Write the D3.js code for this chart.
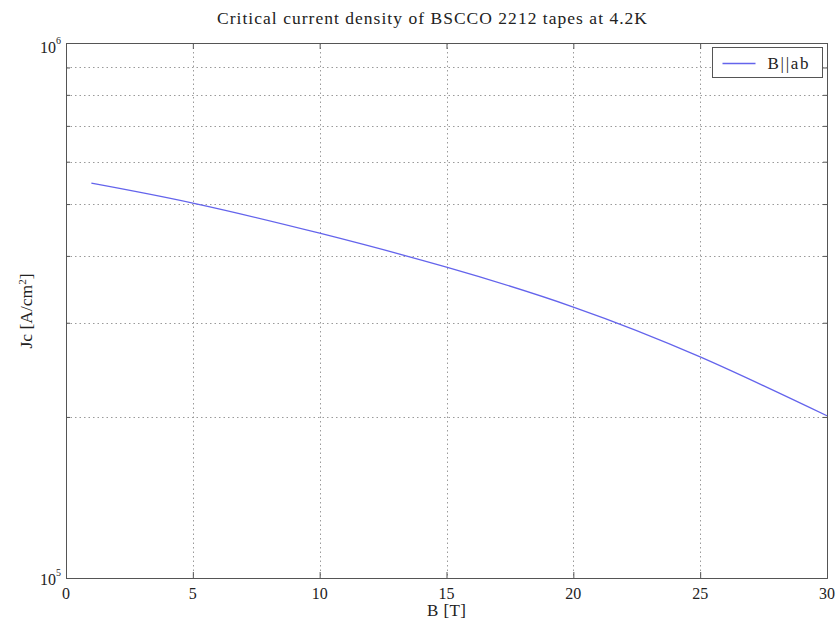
<!DOCTYPE html>
<html>
<head>
<meta charset="utf-8">
<script src="https://cdn.jsdelivr.net/npm/d3@7"></script>
<style>
  html, body { margin: 0; padding: 0; background: #fff; }
  svg { display: block; font-family: "Liberation Serif", "DejaVu Serif", serif; }
</style>
</head>
<body>
<svg id="chart" width="837" height="628"></svg>
<script>
// Field B (tesla) and critical current density Jc (A/cm^2), B parallel to ab-plane
const fieldB = [1, 5, 10, 15, 20, 25, 30];
const jcAB   = [547000, 502000, 441000, 381000, 321000, 259000, 201000];
const xTicks = [0, 5, 10, 15, 20, 25, 30];
const yDecades = [1e5, 1e6];
const yMinor = [2e5, 3e5, 4e5, 5e5, 6e5, 7e5, 8e5, 9e5];
const seriesName = "B||ab";

const svg = d3.select("#chart");
const m = { left: 66, right: 827, top: 43, bottom: 578 };

const x = d3.scaleLinear().domain([0, 30]).range([m.left, m.right]);
const y = d3.scaleLog().domain([1e5, 1e6]).range([m.bottom, m.top]);

// Grid: vertical at x ticks, horizontal at log minor values
const grid = svg.append("g").attr("stroke", "#9a9a9a").attr("stroke-width", 1)
  .attr("stroke-dasharray", "1.5,3");
grid.selectAll("line.v").data(xTicks.slice(1, -1)).join("line")
  .attr("x1", d => Math.round(x(d)) + 0.5).attr("x2", d => Math.round(x(d)) + 0.5)
  .attr("y1", m.top).attr("y2", m.bottom);
grid.selectAll("line.h").data(yMinor).join("line")
  .attr("x1", m.left).attr("x2", m.right)
  .attr("y1", d => Math.round(y(d)) + 0.5).attr("y2", d => Math.round(y(d)) + 0.5);

// Axes with inward ticks on all four sides
const xAxisB = d3.axisBottom(x).tickValues(xTicks).tickSize(-6).tickFormat("");
const xAxisT = d3.axisTop(x).tickValues(xTicks).tickSize(-6).tickFormat("");
const yTickVals = yDecades.concat(yMinor);
const yAxisL = d3.axisLeft(y).tickValues(yTickVals).tickSize(-4).tickFormat("");
const yAxisR = d3.axisRight(y).tickValues(yTickVals).tickSize(-4).tickFormat("");

function styleAxis(g) {
  g.select(".domain").attr("stroke", "#555");
  g.selectAll(".tick line").attr("stroke", "#555");
}
svg.append("g").attr("transform", `translate(0,${m.bottom})`).call(xAxisB).call(styleAxis);
svg.append("g").attr("transform", `translate(0,${m.top})`).call(xAxisT).call(styleAxis);
svg.append("g").attr("transform", `translate(${m.left},0)`).call(yAxisL).call(styleAxis);
svg.append("g").attr("transform", `translate(${m.right},0)`).call(yAxisR).call(styleAxis);

// Tick labels
svg.append("g").selectAll("text").data(xTicks).join("text")
  .attr("x", d => x(d)).attr("y", m.bottom + 21)
  .attr("text-anchor", "middle").attr("font-size", 16).attr("fill", "#222")
  .text(d => d);

const yl = svg.append("g").selectAll("text").data(yDecades).join("text")
  .attr("x", m.left - 5).attr("y", d => y(d) + (d === 1e6 ? 10 : 7))
  .attr("text-anchor", "end").attr("font-size", 16).attr("fill", "#222");
yl.append("tspan").text("10");
yl.append("tspan").attr("dy", -9).attr("font-size", 10).text(d => Math.round(Math.log10(d)));

// Data line
const line = d3.line().x((d, i) => x(fieldB[i])).y(d => y(d)).curve(d3.curveNatural);
svg.append("path").datum(jcAB)
  .attr("d", line).attr("fill", "none")
  .attr("stroke", "#6464ec").attr("stroke-width", 1.3);

// Title and axis labels
svg.append("text").attr("x", 432).attr("y", 24)
  .attr("text-anchor", "middle").attr("font-size", 17.5).attr("fill", "#222")
  .attr("textLength", 430).attr("lengthAdjust", "spacing")
  .text("Critical current density of BSCCO 2212 tapes at 4.2K");
svg.append("text").attr("x", x(15)).attr("y", 616)
  .attr("text-anchor", "middle").attr("font-size", 17).attr("fill", "#222")
  .attr("textLength", 39).attr("lengthAdjust", "spacing")
  .text("B [T]");
const ylab = svg.append("text")
  .attr("transform", `translate(32,311) rotate(-90)`)
  .attr("text-anchor", "middle").attr("font-size", 17.5).attr("fill", "#222");
ylab.append("tspan").text("Jc [A/cm");
ylab.append("tspan").attr("dy", -6).attr("font-size", 11).text("2");
ylab.append("tspan").attr("dy", 6).text("]");

// Legend
const lg = svg.append("g").attr("transform", "translate(712.5,47.5)");
lg.append("rect").attr("width", 110).attr("height", 30)
  .attr("fill", "#fff").attr("stroke", "#555").attr("stroke-width", 1);
lg.append("line").attr("x1", 10).attr("x2", 43).attr("y1", 16).attr("y2", 16)
  .attr("stroke", "#6464ec").attr("stroke-width", 1.3);
lg.append("text").attr("x", 55).attr("y", 21).attr("font-size", 17).attr("fill", "#222")
  .attr("textLength", 41).attr("lengthAdjust", "spacing")
  .text(seriesName);
</script>
</body>
</html>
